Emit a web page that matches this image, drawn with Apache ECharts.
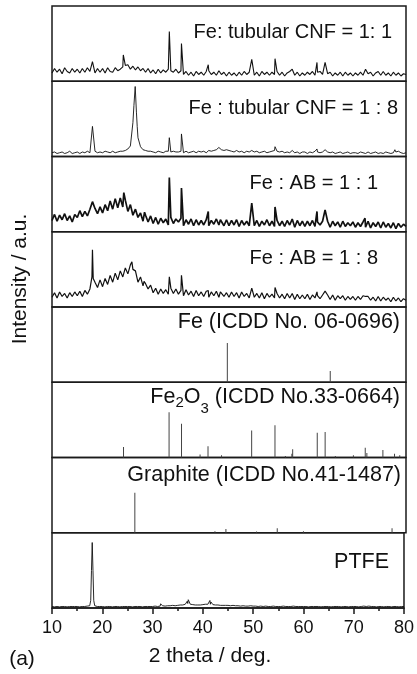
<!DOCTYPE html>
<html><head><meta charset="utf-8">
<script src="https://cdn.jsdelivr.net/npm/echarts@6/dist/echarts.min.js"></script>
<style>html,body{margin:0;padding:0;background:#fff}#c{width:417px;height:674px}</style>
</head><body><div id="c"></div>
<script>
// ---------- data ----------
const xTicks = [10, 20, 30, 40, 50, 60, 70, 80];
const xTitle = '2 theta / deg.';
const yTitle = 'Intensity / a.u.';
const panelTag = '(a)';
const panelLabels = ['Fe: tubular CNF = 1: 1', 'Fe : tubular CNF = 1 : 8', 'Fe : AB = 1 : 1', 'Fe : AB = 1 : 8',
  'Fe (ICDD No. 06-0696)', 'Fe2O3 (ICDD No.33-0664)', 'Graphite (ICDD No.41-1487)', 'PTFE'];
const fe2o3LabelParts = ['Fe', '2', 'O', '3', ' (ICDD No.33-0664)'];

// scans sampled every 0.5 deg from 10 to 80 (relative intensity, 0-100 per panel)
const scanStart = 10, scanStep = 0.5;

const cnf11Base = [11,17,12,16,10,18,13,11,17,12, 16,11,17,12,18,13,16,11,17,12, 17,11,18,13,12,18,14,16,19,21,
  22,16,20,15,19,14,17,12,17,11, 15,10,16,11,15,12,16,14,12,16, 11,14,9,13,8,12,7,13,9,12,
  8,13,14,9,12,8,14,9,12,7, 12,8,11,7,12,8,13,9,12,13, 8,12,7,13,9,12,8,12,9,13,
  8,12,7,11,13,14,8,12,7,11, 8,12,9,13,8,12,13,9,13,10, 12,7,11,8,12,7,12,8,11,7,
  11,8,12,8,14,10,12,7,11,13, 8,13,8,11,7,12,8,11,7,10, 9];
const cnf11Peaks = [[18.0,26],[24.1,35],[33.2,66],[35.6,50],[40.9,22],[43.3,15],[49.5,29],[54.1,30],[57.5,16],
  [62.4,25],[64.0,25],[72.0,16],[75.5,13]];

const cnf18Base = [5,6,4,5,6,4,5,7,4,5, 6,4,6,5,7,5,6,7,5,6, 5,7,6,5,7,5,6,7,7,8,
  10,14,45,75,25,13,9,8,7,7, 6,5,7,6,5,7,7,6,7,6, 6,7,5,7,5,6,7,5,7,6,
  7,5,8,7,8,9,10,9,8,9, 8,7,6,8,6,7,5,7,6,8, 6,7,5,6,7,5,6,7,8,7,
  6,7,5,6,5,7,5,6,4,6, 6,4,6,5,7,6,5,6,4,6, 5,6,4,5,6,4,5,6,4,5,
  5,4,6,5,4,6,4,5,6,4, 5,4,6,5,4,5,6,7,5,4, 5];
const cnf18Peaks = [[18.0,40],[26.2,68],[26.45,93],[26.7,58],[26.85,40],[33.2,25],[35.6,30],[43.0,12],[54.1,13],
  [57.5,8],[62.4,10],[64.0,9],[77.8,9]];

const ab11Base = [15,23,14,22,16,24,15,21,13,23, 19,28,20,27,21,30,22,31,24,33, 25,36,28,41,30,44,32,45,33,42,
  27,36,22,30,19,25,14,22,13,21, 11,19,10,18,12,17,9,19,11,17, 13,18,8,16,10,17,8,16,9,15,
  9,16,8,15,10,17,9,15,8,16, 8,15,9,16,7,15,9,14,8,15, 8,15,7,14,9,16,8,14,7,15,
  8,14,7,15,9,14,6,15,8,14, 7,14,8,15,7,13,9,14,7,14, 6,14,8,13,6,14,7,12,8,13,
  6,12,7,13,6,14,5,12,7,13, 5,12,6,11,5,12,4,11,6,10, 7];
const ab11Peaks = [[18.0,40],[24.2,52],[28.3,26],[33.2,72],[35.6,58],[40.9,27],[43.3,16],[49.5,38],[54.1,33],
  [57.5,17],[62.4,27],[64.0,29],[71.9,18],[75.5,13]];

const ab18Base = [13,19,12,20,14,18,12,19,14,20, 15,21,14,22,17,24,28,33,26,36, 27,38,30,42,33,45,36,48,40,52,
  44,56,50,46,33,40,28,31,24,29, 19,25,17,24,18,23,17,25,18,24, 17,22,15,23,16,21,14,22,15,20,
  14,21,13,20,15,21,13,20,14,19, 13,20,14,19,12,20,14,18,12,19, 13,18,12,19,11,18,13,17,12,18,
  12,17,11,18,12,17,10,17,11,16, 11,17,10,16,12,15,11,16,10,16, 10,16,9,15,11,15,9,14,10,14,
  9,14,10,15,8,14,9,13,8,14, 8,13,9,12,7,13,8,12,7,11, 9];
const ab18Peaks = [[17.9,40],[18.0,76],[18.15,38],[25.8,60],[26.5,48],[28.2,34],[33.2,40],[35.6,42],[40.9,22],
  [43.3,20],[49.5,25],[54.1,26],[57.5,18],[62.4,20],[64.0,21],[72.0,14],[75.5,13]];

const ptfeBase = [2,1.5,2,1.5,2,2,1.5,2,2,2, 2,1.5,2,2,2.5,3,3,3,2,2, 2,1.5,2,2,1.5,2,2,1.5,2,2,
  2,2,1.5,2,2,2,1.5,2,2,2, 2,2.5,2,2.5,3,2.5,3,3,3.5,3, 3.5,4,4,5,6,5,4.5,4,4,4,
  4.5,5,5,5,4.5,4,4,3.5,3.5,3.5, 3.5,3,3.5,3,3,2.5,3,2.5,2.5,3, 2.5,2.5,2,2.5,2,2.5,2,2,2.5,2,
  2,2,2.5,2,2,2,2.5,2,2,2, 2,2,1.5,2,2,2,2,1.5,2,2, 2,1.5,2,2,2,1.5,2,2,1.5,2,
  2,2,1.5,2,2.5,2,2.5,2,2,1.5, 2,2,1.5,2,2,1.5,2,2,1.5,2, 2];
const ptfePeaks = [[17.7,10],[17.85,50],[18.0,87],[18.15,50],[18.3,10],[31.6,5.5],[36.9,9],[37.1,11],
  [41.4,10],[41.6,8]];

// reference patterns: [2theta, relative intensity]
const feSticks = [[44.67,52],[65.02,15]];
const fe2o3Sticks = [[24.14,14],[33.15,60],[35.61,45],[39.28,4],[40.85,15],[43.52,3],[49.48,36],[54.09,43],
  [56.15,2],[57.43,5],[57.59,11],[62.45,33],[64.01,34],[66.03,2],[69.6,3],[71.94,13],[72.26,6],[75.43,10],
  [77.73,5],[78.76,3]];
const graphiteSticks = [[26.38,53],[42.22,2],[44.39,5],[50.45,1.5],[54.54,6],[59.72,2],[77.24,6]];

// ---------- build ----------
function buildScan(base, peaks) {
  const pts = base.map((v, i) => [scanStart + i * scanStep, v])
    .filter(p => !peaks.some(q => Math.abs(q[0] - p[0]) < 0.06));
  return pts.concat(peaks).sort((a, b) => a[0] - b[0]);
}

const panels = [
  {type: 'line', data: buildScan(cnf11Base, cnf11Peaks), w: 1.1},
  {type: 'line', data: buildScan(cnf18Base, cnf18Peaks), w: 0.9},
  {type: 'line', data: buildScan(ab11Base, ab11Peaks), w: 1.7},
  {type: 'line', data: buildScan(ab18Base, ab18Peaks), w: 1.2},
  {type: 'bar', data: feSticks},
  {type: 'bar', data: fe2o3Sticks},
  {type: 'bar', data: graphiteSticks},
  {type: 'line', data: buildScan(ptfeBase, ptfePeaks), w: 0.9}
];

const FONT = 'Liberation Sans, Arial, Helvetica, sans-serif';
const INK = '#111';
const top0 = 6, ph = 75.25, L = 52, R = 11;
const grids = [], xAxes = [], yAxes = [], series = [];
panels.forEach((p, i) => {
  const last = i === panels.length - 1;
  grids.push({left: L, right: R, top: top0 + i * ph, height: ph, show: true, borderColor: '#1a1a1a', borderWidth: 1.5, backgroundColor: 'transparent'});
  xAxes.push({gridIndex: i, type: 'value', min: xTicks[0], max: xTicks[xTicks.length - 1], interval: 10,
    splitLine: {show: false},
    axisLine: {show: last, lineStyle: {color: '#1a1a1a', width: 1.5}},
    axisTick: {show: last, length: 6, inside: false, lineStyle: {color: '#1a1a1a', width: 1.5}},
    minorTick: {show: last, splitNumber: 2, length: 3, lineStyle: {color: '#1a1a1a', width: 1.5}},
    axisLabel: {show: last, fontSize: 18, color: INK, margin: 11, fontFamily: FONT}
  });
  yAxes.push({gridIndex: i, type: 'value', min: 0, max: 100, show: false});
  if (p.type === 'line') {
    series.push({type: 'line', xAxisIndex: i, yAxisIndex: i, data: p.data, showSymbol: false, symbol: 'none',
      lineStyle: {color: '#111', width: p.w}, animation: false, silent: true});
  } else {
    series.push({type: 'bar', xAxisIndex: i, yAxisIndex: i, data: p.data, barWidth: 1,
      itemStyle: {color: '#444'}, animation: false, silent: true});
  }
});

const labelY = [32, 108, 183, 258, 322, 397, 475, 562];
const labelRight = [392, 398, 378, 378, 400, 400, 401, 389];
const labelSize = [20, 20, 20, 20, 21.5, 21.5, 21.5, 21.5];
const graphic = [];
panelLabels.forEach((t, i) => {
  if (i === 5) return;
  graphic.push({type: 'text', x: labelRight[i], y: labelY[i], silent: true,
    style: {text: t, align: 'right', verticalAlign: 'middle', fontSize: labelSize[i], fontFamily: FONT, fill: INK}});
});
// Fe2O3 label with subscripts, laid out from its right edge
const partDy = [0, 6, 0, 12, 0];
const partSize = [21.5, 15, 21.5, 15, 21.5];
const tmp = document.createElement('canvas').getContext('2d');
const widths = fe2o3LabelParts.map((t, k) => { tmp.font = partSize[k] + 'px ' + FONT; return tmp.measureText(t).width; });
let fx = labelRight[5] - widths.reduce((a, b) => a + b, 0);
fe2o3LabelParts.forEach((t, k) => {
  graphic.push({type: 'text', x: fx, y: labelY[5] + partDy[k], silent: true,
    style: {text: t, align: 'left', verticalAlign: 'middle', fontSize: partSize[k], fontFamily: FONT, fill: INK}});
  fx += widths[k];
});

graphic.push({type: 'text', x: 210, y: 656, silent: true,
  style: {text: xTitle, align: 'center', verticalAlign: 'middle', fontSize: 21, fontFamily: FONT, fill: INK}});
graphic.push({type: 'text', x: 22, y: 659, silent: true,
  style: {text: panelTag, align: 'center', verticalAlign: 'middle', fontSize: 21, fontFamily: FONT, fill: INK}});
graphic.push({type: 'text', x: 20, y: 279, rotation: Math.PI / 2, silent: true,
  style: {text: yTitle, align: 'center', verticalAlign: 'middle', fontSize: 21, fontFamily: FONT, fill: INK}});

const chart = echarts.init(document.getElementById('c'), null, {renderer: 'canvas'});
chart.setOption({animation: false, backgroundColor: '#fff', grid: grids, xAxis: xAxes, yAxis: yAxes, series: series, graphic: graphic});
</script></body></html>
